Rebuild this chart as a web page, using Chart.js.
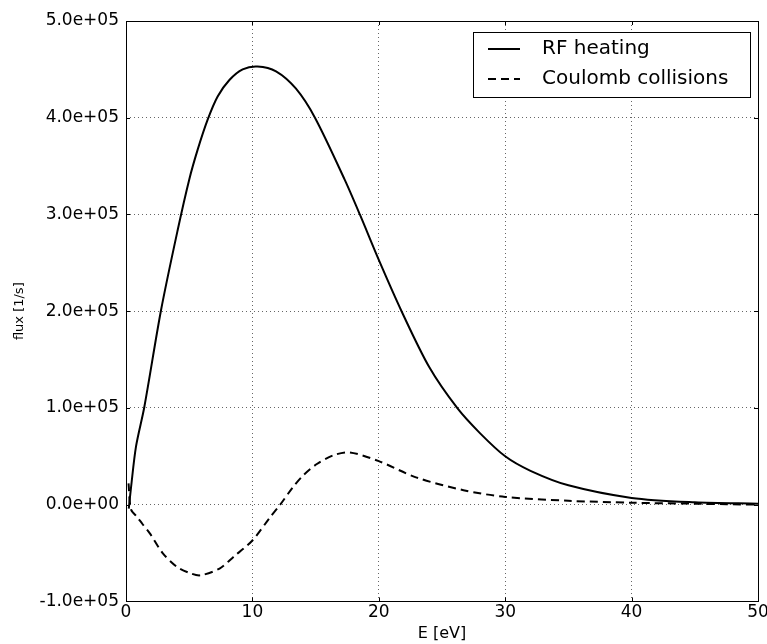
<!DOCTYPE html>
<html>
<head>
<meta charset="utf-8">
<script src="https://cdn.jsdelivr.net/npm/chart.js@4"></script>
<style>
  html, body { margin: 0; padding: 0; background: #fff; }
  #wrap { width: 767px; height: 644px; }
</style>
</head>
<body>
<div id="wrap"><canvas id="chart" width="767" height="644"></canvas></div>
<script>
// values (flux in units of 1e5 1/s)
const rfEnergy = [0.22, 0.4, 0.79, 1.45, 2.77, 4.09, 5.0, 5.67, 6.46, 7.25, 8.18, 9.23, 10.4, 11.87, 13.45, 14.95, 17.3, 18.5, 20, 21.8, 24, 26.2, 28, 30, 32, 35, 40, 45, 50];
const rfFlux = [-0.04, 0.18, 0.60, 1.01, 2.01, 2.84, 3.36, 3.67, 3.98, 4.22, 4.39, 4.50, 4.53, 4.48, 4.30, 4.0, 3.36, 3.0, 2.53, 2.0, 1.42, 1.0, 0.74, 0.5, 0.35, 0.2, 0.07, 0.025, 0.01];

const coulEnergy = [0.2, 0.4, 0.9, 1.3, 1.9, 2.9, 4, 5.1, 5.9, 7.4, 8.5, 10, 11.4, 12.2, 13.2, 14, 15.1, 16.4, 17.7, 20, 23, 26.7, 30, 35, 40, 45, 50];
const coulFlux = [0.22, -0.05, -0.13, -0.2, -0.3, -0.5, -0.64, -0.71, -0.73, -0.66, -0.54, -0.37, -0.13, 0, 0.18, 0.30, 0.42, 0.51, 0.54, 0.45, 0.28, 0.15, 0.08, 0.04, 0.02, 0.01, 0.0];

const seriesLabels = ['RF heating', 'Coulomb collisions'];
const xTicks = [0, 10, 20, 30, 40, 50];
const yTicks = [-1e5, 0, 1e5, 2e5, 3e5, 4e5, 5e5];

const FONT = "'DejaVu Sans', sans-serif";

function toPoints(xs, ys) {
    return xs.map((x, i) => ({ x: x, y: ys[i] * 1e5 }));
}

function sciLabel(v) {
    let s = Number(v).toExponential(1);
    let [m, e] = s.split('e');
    let sign = e[0];
    let digits = e.slice(1).padStart(2, '0');
    return m + 'e' + sign + digits;
}

// frame on all four sides with inward ticks, like matplotlib classic
const framePlugin = {
    id: 'frame',
    afterDatasetsDraw(chart) {
        const { ctx, chartArea: a, scales } = chart;
        ctx.save();
        ctx.strokeStyle = '#000';
        ctx.lineWidth = 1;
        ctx.setLineDash([]);
        ctx.beginPath();
        xTicks.forEach(t => {
            const px = Math.round(scales.x.getPixelForValue(t)) + 0.5;
            ctx.moveTo(px, a.bottom); ctx.lineTo(px, a.bottom - 4);
            ctx.moveTo(px, a.top); ctx.lineTo(px, a.top + 4);
        });
        yTicks.forEach(t => {
            const py = Math.round(scales.y.getPixelForValue(t)) + 0.5;
            ctx.moveTo(a.left, py); ctx.lineTo(a.left + 4, py);
            ctx.moveTo(a.right, py); ctx.lineTo(a.right - 4, py);
        });
        ctx.stroke();
        ctx.strokeRect(Math.round(a.left) + 0.5, Math.round(a.top) + 0.5,
            Math.round(a.right - a.left), Math.round(a.bottom - a.top));
        ctx.restore();
    }
};

// legend box in the upper right corner of the axes
const legendPlugin = {
    id: 'boxLegend',
    afterDraw(chart) {
        const { ctx, chartArea: a } = chart;
        const x0 = Math.round(a.right) - 285, y0 = Math.round(a.top) + 11, w = 277, h = 65;
        ctx.save();
        ctx.fillStyle = '#fff';
        ctx.fillRect(x0, y0, w, h);
        ctx.strokeStyle = '#000';
        ctx.lineWidth = 1;
        ctx.strokeRect(x0 + 0.5, y0 + 0.5, w, h);
        ctx.font = '20px ' + FONT;
        ctx.textBaseline = 'middle';
        chart.data.datasets.forEach((ds, i) => {
            const cy = y0 + 17 + i * 30;
            ctx.strokeStyle = ds.borderColor;
            ctx.lineWidth = ds.borderWidth;
            ctx.setLineDash(ds.borderDash || []);
            ctx.beginPath();
            ctx.moveTo(x0 + 15, cy);
            ctx.lineTo(x0 + 47, cy);
            ctx.stroke();
            ctx.setLineDash([]);
            ctx.fillStyle = '#000';
            ctx.fillText(ds.label, x0 + 69, cy);
        });
        ctx.restore();
    }
};

const ctx = document.getElementById('chart').getContext('2d');

const chart = new Chart(ctx, {
    type: 'line',
    data: {
        datasets: [{
            label: seriesLabels[0],
            data: toPoints(rfEnergy, rfFlux),
            borderColor: '#000',
            borderWidth: 2,
            pointRadius: 0,
            fill: false,
            tension: 0.3
        }, {
            label: seriesLabels[1],
            data: toPoints(coulEnergy, coulFlux),
            borderColor: '#000',
            borderWidth: 2,
            borderDash: [8, 5],
            pointRadius: 0,
            fill: false,
            tension: 0.3
        }]
    },
    options: {
        responsive: false,
        animation: false,
        layout: { padding: { top: 21, right: 9, left: 0, bottom: 0 } },
        plugins: {
            legend: { display: false },
            tooltip: { enabled: false }
        },
        scales: {
            x: {
                type: 'linear',
                min: 0,
                max: 50,
                afterBuildTicks: s => { s.ticks = xTicks.map(v => ({ value: v })); },
                afterFit: s => { s.paddingRight = 0; s.paddingLeft = 0; },
                grid: { color: '#666', lineWidth: 1, drawTicks: false },
                border: { display: false, dash: [1, 3] },
                ticks: { color: '#000', font: { family: FONT, size: 17 }, padding: 1, maxRotation: 0 },
                title: { display: true, text: 'E [eV]', color: '#000', font: { family: FONT, size: 16 }, padding: { top: 0, bottom: 1 } }
            },
            y: {
                min: -1e5,
                max: 5e5,
                afterBuildTicks: s => { s.ticks = yTicks.map(v => ({ value: v })); },
                afterFit: s => { s.width = 126; s.paddingTop = 0; s.paddingBottom = 0; },
                grid: { color: '#666', lineWidth: 1, drawTicks: false },
                border: { display: false, dash: [1, 3] },
                ticks: { color: '#000', font: { family: FONT, size: 17 }, padding: 7, callback: v => sciLabel(v) },
                title: { display: true, text: 'flux [1/s]', color: '#000', font: { family: FONT, size: 13 }, padding: { top: 12, bottom: 4 } }
            }
        }
    },
    plugins: [framePlugin, legendPlugin]
});
</script>
</body>
</html>
